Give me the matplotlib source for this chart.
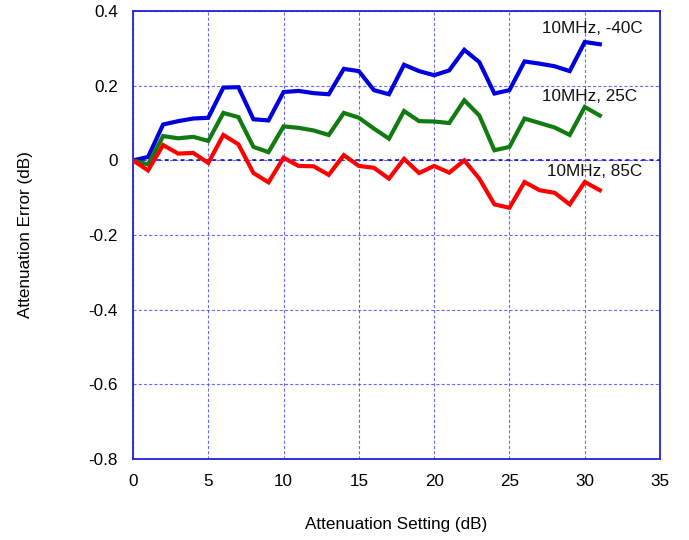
import matplotlib
matplotlib.use("Agg")
import matplotlib.pyplot as plt

plt.rcParams['font.family'] = ['Liberation Sans', 'DejaVu Sans']

atten = list(range(0, 32))
err_m40 = [0.0, 0.009, 0.096, 0.105, 0.112, 0.114, 0.195, 0.196, 0.110, 0.107,
           0.183, 0.186, 0.180, 0.177, 0.245, 0.239, 0.188, 0.177, 0.256, 0.239,
           0.228, 0.241, 0.296, 0.263, 0.179, 0.188, 0.265, 0.259, 0.252, 0.239,
           0.317, 0.311]
err_25 = [0.0, -0.011, 0.065, 0.059, 0.063, 0.052, 0.127, 0.116, 0.036, 0.022,
          0.091, 0.087, 0.080, 0.068, 0.127, 0.114, 0.085, 0.058, 0.132, 0.105,
          0.104, 0.100, 0.161, 0.120, 0.027, 0.036, 0.112, 0.100, 0.088, 0.068,
          0.143, 0.120]
err_85 = [0.0, -0.027, 0.041, 0.018, 0.020, -0.007, 0.068, 0.043, -0.034, -0.059,
          0.007, -0.015, -0.016, -0.039, 0.014, -0.015, -0.020, -0.049, 0.004, -0.034,
          -0.015, -0.033, 0.000, -0.049, -0.118, -0.127, -0.058, -0.080, -0.087, -0.118,
          -0.058, -0.080]
labels = ["10MHz, -40C", "10MHz, 25C", "10MHz, 85C"]
label_pos = [(27.15, 0.354), (27.15, 0.172), (27.5, -0.031)]
colors = ["#0000DD", "#117A11", "#FF0000"]
xticks = [0, 5, 10, 15, 20, 25, 30, 35]
yticks = [-0.8, -0.6, -0.4, -0.2, 0, 0.2, 0.4]
ytick_labels = ["-0.8", "-0.6", "-0.4", "-0.2", "0", "0.2", "0.4"]

fig = plt.figure(figsize=(6.89, 5.40), dpi=100)
ax = fig.add_axes([0.193, 0.15, 0.765, 0.8296])

for ys, c in zip([err_m40, err_25, err_85], colors):
    ax.plot(atten, ys, color=c, lw=3.0, solid_joinstyle='miter', zorder=3)

for (tx, ty), t in zip(label_pos, labels):
    ax.text(tx, ty, t, fontsize=12.3, ha='left', va='center', color='#111111', zorder=4)

ax.set_xlim(0, 35)
ax.set_ylim(-0.8, 0.4)
ax.set_xticks(xticks)
ax.set_yticks(yticks)
ax.set_yticklabels(ytick_labels)
ax.grid(True, color='#4444EE', linestyle=(0, (2.8, 1.9)), linewidth=0.8, alpha=0.8)
ax.axhline(0, color='#0000CC', linestyle=(0, (2.6, 2.6)), linewidth=1.1, zorder=2)
ax.set_axisbelow(True)
for s in ax.spines.values():
    s.set_color('#2222DD')
    s.set_linewidth(1.3)
ax.tick_params(length=0, labelsize=12.3, pad=11)
ax.set_xlabel("Attenuation Setting (dB)", fontsize=12.3, labelpad=20)
ax.set_ylabel("Attenuation Error (dB)", fontsize=12.3, labelpad=40)

fig.savefig("out.png", dpi=100)
